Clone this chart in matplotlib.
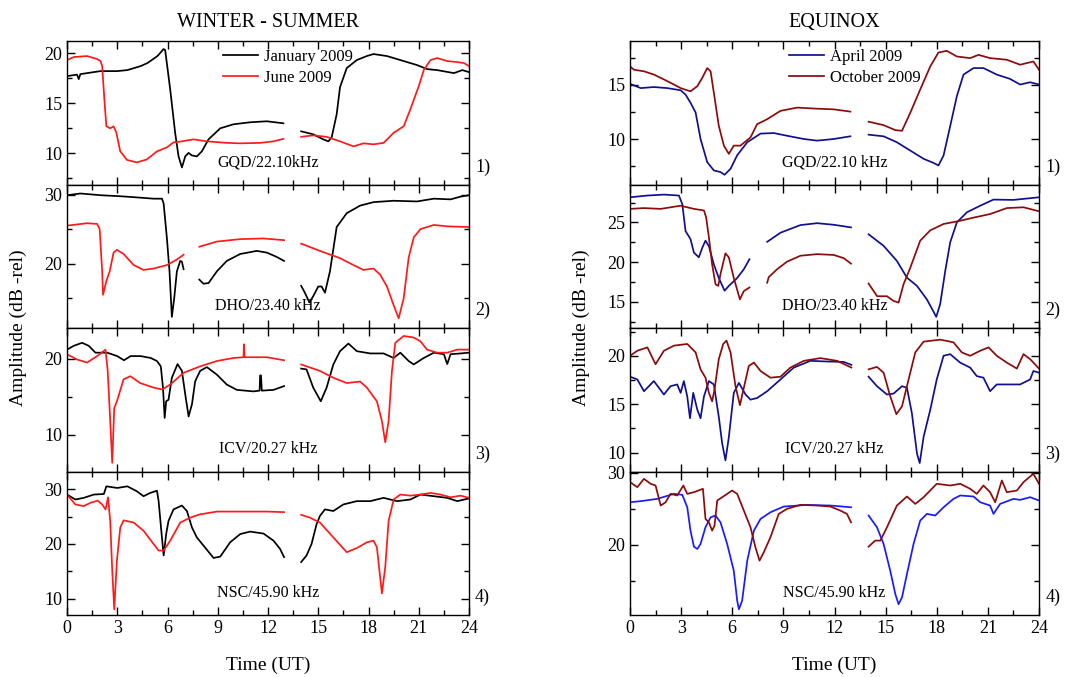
import numpy as np
import matplotlib
matplotlib.use("Agg")
import matplotlib.pyplot as plt
from matplotlib.ticker import MultipleLocator

plt.rcParams['font.family'] = ['Liberation Serif', 'DejaVu Serif']

N = np.nan  # gap marker (no data between ~13 and ~14 UT)

# ---------------- WINTER - SUMMER ----------------
jan_gqd = [(0, 17.7), (0.6, 17.85), (0.7, 17.4), (0.8, 17.9), (2.0, 18.2), (3.0, 18.2), (3.6, 18.3), (4.4, 18.7),
           (4.8, 19.0), (5.4, 19.7), (5.77, 20.4), (5.86, 20.3), (6.16, 16.4), (6.46, 12.0), (6.66, 9.7),
           (6.86, 8.6), (7.06, 9.7), (7.26, 10.05), (7.45, 9.8), (7.75, 9.7), (8.05, 10.2), (8.45, 11.4),
           (9.15, 12.5), (9.94, 12.9), (10.93, 13.1), (11.93, 13.2), (12.92, 13.0), (N, N),
           (13.98, 12.2), (14.7, 11.9), (15.3, 11.4), (15.6, 11.2), (15.8, 11.6), (16.1, 13.9), (16.3, 16.6),
           (16.7, 18.5), (17.3, 19.3), (17.9, 19.7), (18.3, 19.9), (19.1, 19.7), (19.9, 19.3), (20.9, 18.8),
           (21.5, 18.4), (22.1, 18.3), (23.1, 18.0), (23.6, 18.3), (24.0, 18.1)]
jun_gqd = [(0, 19.3), (0.4, 19.6), (1.2, 19.7), (1.8, 19.4), (2.0, 19.2), (2.1, 18.7), (2.23, 15.4), (2.35, 12.7),
           (2.58, 12.5), (2.78, 12.7), (2.94, 12.1), (3.18, 10.2), (3.58, 9.35), (4.17, 9.1), (4.77, 9.4),
           (5.37, 10.2), (5.96, 10.6), (6.36, 11.1), (6.86, 11.2), (7.55, 11.4), (8.35, 11.2), (9.54, 11.05),
           (10.34, 11.0), (11.53, 11.05), (12.33, 11.2), (12.92, 11.45), (N, N),
           (13.98, 11.65), (14.7, 11.8), (15.5, 11.65), (16.3, 11.2), (17.1, 10.7), (17.7, 11.0), (18.3, 10.9),
           (18.9, 11.05), (19.5, 12.05), (20.1, 12.7), (20.5, 14.4), (21.0, 16.7), (21.3, 18.3), (21.7, 19.3),
           (22.1, 19.5), (22.7, 19.2), (23.3, 19.1), (23.7, 19.0), (24.0, 18.7)]

jan_dho = [(0, 29.9), (0.8, 30.15), (2.0, 29.9), (3.2, 29.75), (4.37, 29.55), (5.17, 29.4), (5.67, 29.4),
           (5.77, 28.7), (5.96, 23.8), (6.12, 18.9), (6.26, 12.3), (6.4, 15.0), (6.56, 18.9), (6.76, 20.4),
           (6.86, 20.3), (6.96, 19.2), (N, N),
           (7.9, 17.7), (8.15, 17.1), (8.45, 17.2), (8.95, 18.9), (9.54, 20.4), (10.34, 21.4), (11.33, 21.85),
           (11.93, 21.6), (12.5, 21.0), (12.96, 20.4), (N, N),
           (13.98, 16.8), (14.2, 15.8), (14.47, 14.4), (14.7, 15.3), (15.0, 16.7), (15.2, 16.7), (15.4, 15.8),
           (15.7, 18.9), (16.1, 25.3), (16.7, 27.3), (17.5, 28.4), (18.3, 28.9), (19.5, 29.1), (20.9, 29.0),
           (21.9, 29.4), (22.9, 29.3), (23.5, 29.7), (24.0, 29.9)]
jun_dho = [(0, 25.5), (1.2, 25.85), (1.8, 25.75), (1.95, 25.0), (2.1, 18.9), (2.15, 15.5), (2.35, 17.5),
           (2.55, 18.9), (2.78, 21.6), (2.98, 22.0), (3.38, 21.4), (3.98, 19.8), (4.57, 19.1), (5.17, 19.3),
           (5.96, 19.8), (6.56, 20.6), (6.96, 21.3), (N, N),
           (7.9, 22.45), (8.95, 23.2), (10.34, 23.55), (11.7, 23.65), (12.96, 23.4), (N, N),
           (13.98, 22.9), (15.1, 21.85), (16.3, 20.8), (17.1, 19.8), (17.7, 19.1), (18.3, 19.3), (18.7, 18.4),
           (19.1, 16.7), (19.5, 14.0), (19.8, 12.1), (20.1, 15.0), (20.4, 20.9), (20.7, 23.8), (21.1, 25.0),
           (21.9, 25.6), (22.7, 25.4), (24.0, 25.3)]

jan_icv = [(0, 21.2), (0.4, 21.7), (0.9, 22.1), (1.3, 21.7), (1.7, 20.8), (2.4, 20.8), (3.0, 20.35), (3.4, 19.8),
           (3.8, 20.35), (4.4, 20.35), (5.0, 20.1), (5.37, 19.7), (5.6, 19.0), (5.73, 16.2), (5.83, 12.2),
           (5.92, 14.4), (6.06, 14.6), (6.26, 17.5), (6.6, 19.3), (6.86, 18.4), (7.06, 15.3), (7.26, 12.4),
           (7.46, 14.0), (7.65, 17.0), (7.75, 17.5), (7.95, 18.4), (8.35, 18.9), (8.95, 17.9), (9.54, 16.6),
           (10.14, 15.9), (11.13, 15.7), (11.5, 15.8), (11.53, 17.8), (11.58, 17.8), (11.63, 15.8),
           (12.33, 15.9), (12.96, 16.4), (N, N),
           (13.98, 18.7), (14.3, 18.6), (14.7, 16.2), (15.15, 14.4), (15.5, 16.2), (15.9, 19.25), (16.3, 21.0),
           (16.8, 22.0), (17.3, 21.0), (18.1, 20.7), (18.9, 20.7), (19.5, 20.1), (19.9, 20.8), (20.4, 19.7),
           (20.7, 19.25), (21.3, 20.1), (21.9, 20.8), (22.5, 20.6), (22.7, 19.3), (22.9, 20.6), (23.5, 20.7),
           (24.0, 20.8)]
jun_icv = [(0, 20.6), (0.6, 19.9), (1.2, 19.5), (1.8, 20.35), (2.3, 21.2), (2.43, 18.4), (2.58, 11.8), (2.7, 6.3),
           (2.82, 13.5), (2.98, 14.4), (3.38, 17.3), (3.78, 17.7), (4.37, 16.8), (5.17, 16.2), (5.67, 15.95),
           (6.16, 16.6), (6.96, 18.15), (7.95, 19.0), (8.95, 19.7), (9.94, 20.1), (10.54, 20.2), (10.56, 21.9),
           (10.6, 20.2), (11.93, 20.2), (12.96, 19.8), (N, N),
           (13.98, 19.25), (15.1, 18.4), (15.9, 17.5), (16.7, 16.8), (17.5, 17.0), (17.9, 16.2), (18.5, 14.4),
           (18.8, 11.8), (19.0, 9.0), (19.2, 11.8), (19.4, 18.4), (19.6, 22.1), (20.1, 23.0), (20.7, 22.8),
           (21.1, 22.3), (21.5, 21.2), (22.1, 20.8), (22.7, 20.8), (23.3, 21.2), (24.0, 21.2)]

jan_nsc = [(0, 29.0), (0.5, 28.1), (1.0, 28.4), (1.6, 29.0), (2.2, 29.1), (2.35, 30.5), (3.0, 30.2), (3.6, 30.5),
           (4.17, 29.6), (4.57, 28.7), (4.97, 29.3), (5.37, 29.7), (5.47, 27.8), (5.63, 22.4), (5.77, 17.9),
           (5.92, 21.8), (6.06, 24.2), (6.36, 26.3), (6.86, 27.0), (7.16, 26.0), (7.46, 23.0), (7.75, 21.2),
           (8.15, 19.7), (8.75, 17.45), (9.15, 17.7), (9.74, 20.3), (10.34, 21.8), (10.93, 22.25),
           (11.73, 21.9), (12.33, 20.6), (12.72, 19.1), (12.96, 17.6), (N, N),
           (13.98, 16.7), (14.3, 17.9), (14.6, 20.0), (14.9, 23.6), (15.1, 25.1), (15.4, 26.3), (15.9, 26.0),
           (16.5, 27.2), (17.3, 27.8), (18.1, 27.8), (18.9, 28.4), (19.7, 27.8), (20.5, 28.1), (21.1, 29.0),
           (21.9, 28.7), (22.7, 28.4), (23.3, 27.8), (24.0, 28.3)]
jun_nsc = [(0, 29.0), (0.5, 27.2), (1.0, 26.9), (1.4, 27.5), (1.83, 27.9), (2.1, 27.2), (2.3, 26.3), (2.45, 28.5),
           (2.58, 24.2), (2.7, 15.2), (2.82, 8.1), (2.98, 17.0), (3.18, 23.0), (3.38, 24.3), (3.98, 23.9),
           (4.57, 22.4), (5.17, 20.0), (5.47, 18.8), (5.77, 18.8), (6.16, 20.6), (6.76, 23.9), (7.36, 24.8),
           (7.95, 25.4), (8.95, 25.9), (10.34, 25.9), (11.93, 25.9), (12.96, 25.8), (N, N),
           (13.98, 25.3), (14.5, 24.8), (15.1, 23.9), (15.9, 21.2), (16.7, 18.5), (17.3, 19.25), (17.9, 20.3),
           (18.3, 20.6), (18.5, 19.4), (18.65, 15.2), (18.8, 11.0), (19.0, 15.8), (19.2, 24.2), (19.5, 28.1),
           (19.9, 29.0), (20.5, 28.8), (21.1, 29.0), (21.7, 29.3), (22.3, 29.0), (22.9, 28.5), (23.5, 28.8),
           (24.0, 28.4)]

# ---------------- EQUINOX ----------------
apr_gqd = [(0, 15.1), (0.63, 14.7), (1.4, 14.8), (2.19, 14.7), (2.97, 14.5), (3.26, 14.1), (3.55, 13.35),
           (3.85, 12.45), (4.14, 10.0), (4.53, 7.87), (4.92, 7.1), (5.31, 6.95), (5.55, 6.7), (5.9, 7.25),
           (6.29, 8.5), (6.88, 9.7), (7.66, 10.5), (8.44, 10.55), (9.22, 10.3), (10.2, 10.0), (10.98, 9.85),
           (11.95, 10.0), (12.93, 10.25), (N, N),
           (14.0, 10.4), (14.88, 10.25), (15.66, 9.7), (16.45, 8.93), (17.23, 8.17), (17.8, 7.8), (18.1, 7.56),
           (18.4, 8.48), (18.79, 11.2), (19.18, 13.96), (19.57, 15.95), (20.16, 16.55), (20.74, 16.55),
           (21.52, 15.95), (22.3, 15.55), (22.89, 15.03), (23.48, 15.24), (24.0, 15.03)]
oct_gqd = [(0, 16.7), (0.23, 16.4), (0.82, 16.25), (1.4, 15.95), (1.99, 15.5), (2.58, 15.03), (2.97, 14.7),
           (3.55, 14.4), (3.95, 14.88), (4.24, 15.64), (4.53, 16.55), (4.73, 16.25), (4.92, 14.27),
           (5.21, 11.22), (5.51, 9.39), (5.8, 8.63), (6.09, 9.39), (6.48, 9.39), (7.07, 10.15), (7.46, 11.37),
           (8.05, 11.83), (8.83, 12.6), (9.8, 12.9), (10.98, 12.8), (11.95, 12.74), (12.93, 12.53), (N, N),
           (14.0, 11.6), (14.88, 11.28), (15.57, 10.82), (15.96, 10.76), (16.45, 12.44), (17.03, 14.57),
           (17.62, 16.7), (18.1, 17.99), (18.59, 18.14), (19.18, 17.62), (19.96, 17.47), (20.45, 17.77),
           (21.13, 17.47), (22.11, 17.32), (22.89, 16.86), (23.67, 17.16), (24.0, 16.4)]

apr_dho = [(0, 28.16), (1.02, 28.38), (2.0, 28.5), (2.87, 28.38), (3.07, 27.3), (3.26, 23.9), (3.55, 22.9),
           (3.75, 21.2), (4.04, 20.6), (4.24, 21.8), (4.43, 22.7), (4.63, 22.0), (4.92, 19.7), (5.21, 18.0),
           (5.55, 16.4), (5.8, 17.0), (6.29, 18.0), (6.68, 19.1), (7.01, 20.36), (N, N),
           (8.05, 22.55), (8.83, 23.7), (10.0, 24.66), (10.98, 24.9), (11.95, 24.7), (12.97, 24.37), (N, N),
           (14.0, 23.5), (14.88, 22.05), (15.66, 20.15), (16.25, 18.04), (16.84, 17.0), (17.42, 15.3),
           (17.8, 13.8), (17.97, 13.1), (18.2, 14.7), (18.5, 18.9), (18.79, 22.5), (19.18, 25.0),
           (19.77, 26.27), (20.55, 27.1), (21.33, 27.87), (22.5, 27.83), (24.0, 28.16)]
oct_dho = [(0, 26.7), (0.82, 26.8), (1.8, 26.7), (2.97, 27.1), (3.75, 26.7), (4.34, 26.5), (4.47, 25.6),
           (4.63, 23.1), (4.82, 19.7), (5.02, 17.2), (5.18, 17.0), (5.31, 18.5), (5.6, 21.1), (5.8, 20.6),
           (6.09, 18.0), (6.45, 15.3), (6.68, 16.35), (7.01, 16.8), (N, N),
           (8.05, 17.4), (8.14, 18.1), (8.63, 19.1), (9.22, 20.06), (10.0, 20.8), (10.98, 21.0), (11.95, 20.9),
           (12.54, 20.5), (12.97, 19.8), (N, N),
           (14.0, 17.3), (14.5, 15.7), (15.08, 15.7), (15.47, 15.1), (15.76, 14.9), (16.05, 17.2),
           (16.45, 19.3), (17.03, 22.7), (17.62, 24.0), (18.4, 24.8), (19.37, 25.2), (20.16, 25.6),
           (21.13, 26.05), (22.11, 26.8), (23.09, 26.9), (24.0, 26.4)]

apr_icv = [(0, 17.84), (0.43, 17.56), (0.82, 16.34), (1.4, 17.39), (1.99, 16.0), (2.38, 16.86), (2.77, 17.04),
           (2.97, 16.17), (3.16, 17.39), (3.36, 15.8), (3.52, 13.55), (3.71, 16.17), (3.95, 14.43),
           (4.14, 13.55), (4.34, 15.8), (4.63, 17.39), (4.92, 17.04), (5.21, 13.7), (5.41, 10.94), (5.6, 9.2),
           (5.8, 11.6), (6.09, 16.17), (6.39, 17.2), (6.78, 16.0), (7.07, 15.47), (7.46, 15.64), (8.05, 16.34),
           (8.83, 17.56), (9.61, 18.78), (10.59, 19.48), (11.56, 19.41), (12.54, 19.37), (12.99, 19.06), (N, N),
           (14.0, 17.84), (14.49, 16.86), (15.08, 16.0), (15.47, 16.1), (15.96, 16.86), (16.25, 16.7),
           (16.54, 14.08), (16.84, 9.9), (17.0, 8.92), (17.23, 11.64), (17.62, 14.43), (18.0, 17.56),
           (18.4, 20.0), (18.79, 20.17), (19.37, 19.3), (19.96, 18.78), (20.35, 17.9), (20.74, 17.74),
           (21.13, 16.34), (21.52, 17.04), (22.11, 17.04), (22.89, 17.04), (23.48, 17.56), (23.67, 18.43),
           (24.0, 18.26)]
oct_icv = [(0, 20.0), (0.43, 20.52), (1.02, 20.87), (1.5, 19.13), (1.99, 20.52), (2.58, 21.05), (3.36, 21.22),
           (3.85, 20.35), (4.14, 18.6), (4.43, 17.74), (4.63, 16.17), (4.82, 15.3), (4.96, 16.52),
           (5.21, 19.65), (5.47, 21.22), (5.66, 21.57), (5.9, 20.35), (6.19, 16.86), (6.45, 14.9), (6.68, 16.7),
           (6.97, 18.95), (7.27, 19.3), (7.66, 18.43), (8.24, 17.74), (8.83, 17.84), (9.41, 18.78),
           (10.2, 19.48), (11.17, 19.76), (12.15, 19.48), (12.99, 18.78), (N, N),
           (14.0, 18.6), (14.49, 18.85), (14.88, 18.26), (15.27, 15.82), (15.63, 13.97), (15.96, 14.77),
           (16.25, 16.86), (16.74, 20.35), (17.23, 21.46), (18.2, 21.67), (18.98, 21.39), (19.47, 20.35),
           (19.96, 20.0), (20.55, 20.52), (21.04, 20.87), (21.52, 20.0), (22.11, 19.3), (22.7, 18.68),
           (23.09, 20.17), (23.48, 19.65), (24.0, 18.68)]

apr_nsc = [(0, 25.9), (0.63, 26.05), (1.6, 26.37), (2.58, 27.07), (3.07, 26.93), (3.36, 25.2), (3.55, 21.95),
           (3.75, 19.72), (3.95, 19.4), (4.14, 20.1), (4.43, 22.42), (4.73, 23.8), (5.02, 24.05), (5.31, 23.1),
           (5.7, 20.1), (6.09, 16.37), (6.29, 12.19), (6.39, 11.0), (6.58, 12.19), (6.88, 17.77),
           (7.27, 21.95), (7.66, 23.58), (8.24, 24.5), (9.02, 25.3), (10.39, 25.53), (11.76, 25.44),
           (12.97, 25.2), (N, N),
           (14.0, 24.05), (14.49, 22.42), (14.88, 20.1), (15.27, 16.37), (15.57, 13.1), (15.76, 11.7),
           (15.96, 12.65), (16.25, 15.9), (16.64, 20.1), (17.03, 23.35), (17.42, 24.28), (17.91, 24.05),
           (18.4, 25.2), (18.98, 26.37), (19.38, 26.84), (20.16, 26.7), (20.55, 25.9), (21.13, 25.44),
           (21.33, 24.28), (21.72, 25.67), (22.5, 26.37), (22.89, 26.23), (23.48, 26.6), (24.0, 26.14)]
oct_nsc = [(0, 28.7), (0.43, 28.0), (0.82, 29.16), (1.21, 28.47), (1.5, 28.23), (1.8, 25.44), (2.09, 25.9),
           (2.38, 27.07), (2.77, 26.84), (3.13, 28.23), (3.36, 27.07), (3.75, 27.3), (4.28, 27.77),
           (4.43, 23.58), (4.63, 23.1), (4.82, 21.95), (4.96, 22.65), (5.12, 26.14), (5.41, 26.6),
           (5.99, 27.53), (6.29, 27.07), (6.68, 24.74), (7.07, 22.42), (7.36, 19.63), (7.6, 17.77),
           (7.85, 18.93), (8.24, 21.02), (8.73, 24.28), (9.22, 24.98), (10.0, 25.53), (10.98, 25.44),
           (11.76, 25.3), (12.34, 24.74), (12.73, 24.28), (12.97, 23.1), (N, N),
           (14.0, 19.72), (14.39, 20.56), (14.69, 20.56), (15.08, 22.42), (15.66, 25.44), (16.25, 26.7),
           (16.74, 25.67), (17.23, 26.6), (18.0, 28.47), (18.79, 28.23), (19.38, 28.47), (19.96, 27.77),
           (20.35, 27.07), (20.74, 28.23), (21.13, 27.3), (21.43, 25.9), (21.82, 28.93), (22.11, 27.3),
           (22.7, 27.53), (23.09, 28.7), (23.67, 29.86), (24.0, 28.47)]

stations = ["GQD/22.10kHz", "DHO/23.40 kHz", "ICV/20.27 kHz", "NSC/45.90 kHz"]
stations_eq = ["GQD/22.10 kHz", "DHO/23.40 kHz", "ICV/20.27 kHz", "NSC/45.90 kHz"]
panel_tags = ["1)", "2)", "3)", "4)"]
x_ticks = [0, 3, 6, 9, 12, 15, 18, 21, 24]

left_series = [(jan_gqd, jun_gqd), (jan_dho, jun_dho), (jan_icv, jun_icv), (jan_nsc, jun_nsc)]
right_series = [(apr_gqd, oct_gqd), (apr_dho, oct_dho), (apr_icv, oct_icv), (apr_nsc, oct_nsc)]

left_ylim = [(6.9, 21.2), (10.7, 31.45), (5.15, 24.05), (7.06, 33.2)]
left_major = [5, 10, 10, 10]
right_ylim = [(5.8, 19.05), (11.7, 29.77), (8.05, 22.87), (10.2, 30.18)]
right_major = [5, 5, 5, 10]

fig = plt.figure(figsize=(10.72, 6.77), dpi=100)
W, H = 1072.0, 677.0
top_px, bot_px = 41.0, 615.0
ph = (bot_px - top_px) / 4


def style_axis(ax, ylim, major, show_x):
    ax.set_xlim(0, 24)
    ax.set_ylim(*ylim)
    ax.set_xticks(x_ticks)
    ax.xaxis.set_minor_locator(MultipleLocator(1.5))
    ax.yaxis.set_major_locator(MultipleLocator(major))
    ax.yaxis.set_minor_locator(MultipleLocator(major / 2))
    ax.tick_params(which='both', direction='in', top=True, right=True, labelsize=13)
    ax.tick_params(which='major', length=6, width=1)
    ax.tick_params(which='minor', length=3.5, width=1)
    if not show_x:
        ax.tick_params(labelbottom=False)
    for s in ax.spines.values():
        s.set_linewidth(1.0)


def draw_column(x0_px, w_px, series, ylims, majors, colors, names, labels, title):
    axes = []
    for i in range(4):
        y0 = 1 - (top_px + (i + 1) * ph) / H
        ax = fig.add_axes([x0_px / W, y0, w_px / W, ph / H])
        for data, c, nm in zip(series[i], colors[i], names):
            arr = np.array(data, dtype=float)
            ax.plot(arr[:, 0], arr[:, 1], color=c, lw=1.25, label=nm)
        style_axis(ax, ylims[i], majors[i], i == 3)
        ax.text(0.5, 0.1, labels[i], transform=ax.transAxes,
                ha='center', va='bottom', fontsize=11.5)
        ax.text(1.015, 0.12, panel_tags[i], transform=ax.transAxes, fontsize=13,
                ha='left', va='center')
        axes.append(ax)
    axes[0].set_title(title, fontsize=14.5, pad=10)
    axes[0].legend(loc='upper left', bbox_to_anchor=(0.378, 0.975), borderaxespad=0.0, borderpad=0.25,
                   frameon=False, fontsize=12, handlelength=2.1, handletextpad=0.35, labelspacing=0.3)
    axes[3].set_xlabel("Time (UT)", fontsize=14, labelpad=14)
    fig.text((x0_px - 49) / W, 1 - (top_px + 2 * ph) / H, "Amplitude (dB -rel)", rotation=90,
             ha='center', va='center', fontsize=14)
    return axes


left_colors = [("black", "#ff1a1a")] * 4
right_colors = [("#10108f", "#8b0a0a")] * 3 + [("#1a1aff", "#8b0a0a")]

draw_column(67, 402, left_series, left_ylim, left_major, left_colors,
            ["January 2009", "June 2009"], stations, "WINTER - SUMMER")
draw_column(630, 409, right_series, right_ylim, right_major, right_colors,
            ["April 2009", "October 2009"], stations_eq, "EQUINOX")

fig.savefig("out.png", dpi=100)
